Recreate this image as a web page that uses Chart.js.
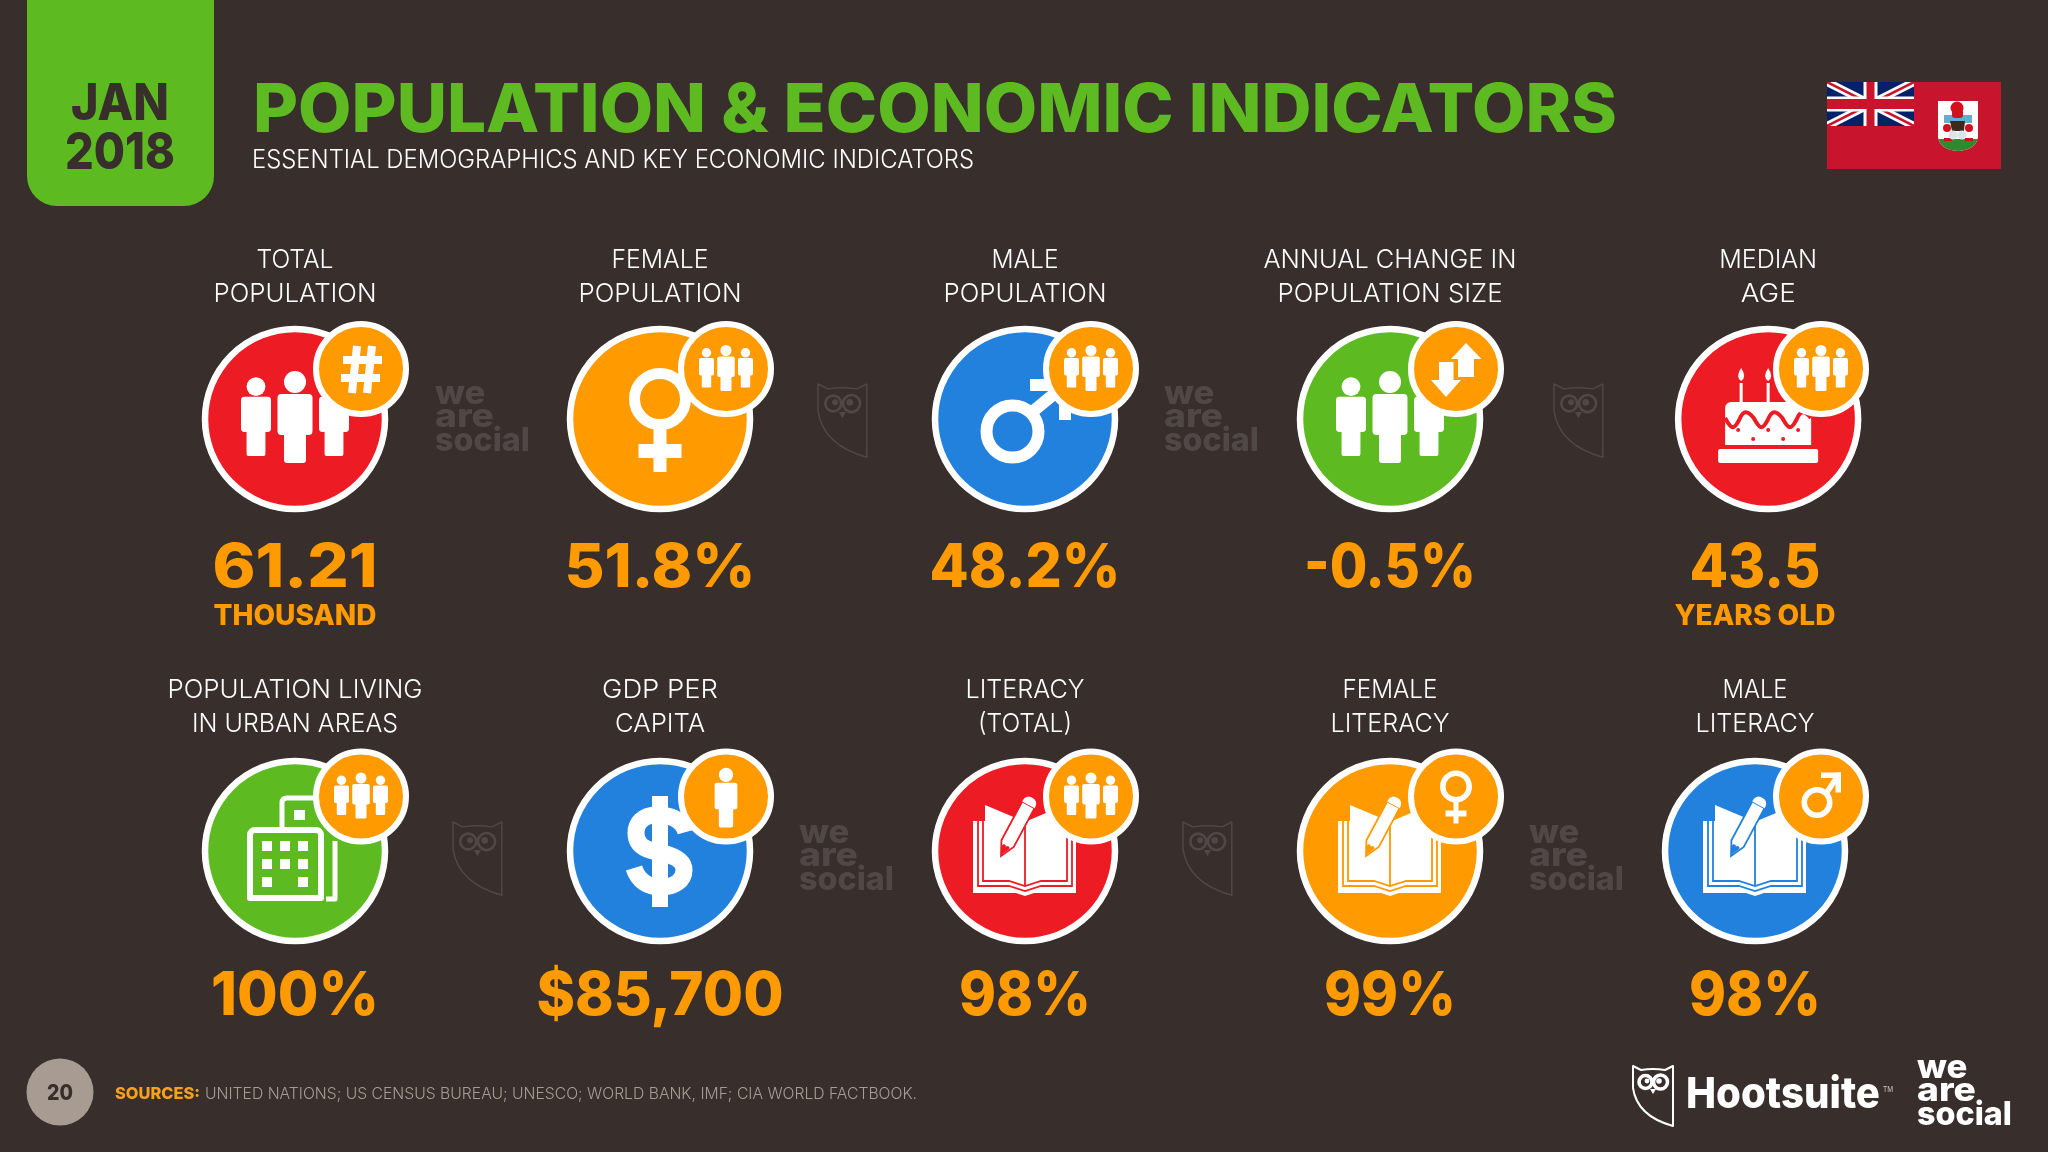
<!DOCTYPE html>
<html>
<head>
<meta charset="utf-8">
<title>Population & economic indicators</title>
<script src="https://cdn.jsdelivr.net/npm/chart.js"></script>
<style>
  html, body { margin: 0; padding: 0; background: #382e2c; overflow: hidden; }
  canvas { display: block; }
</style>
</head>
<body>
<canvas id="myChart" width="2048" height="1152"></canvas>
<script>
// data
const indicatorNames = [
  ["TOTAL", "POPULATION"], ["FEMALE", "POPULATION"], ["MALE", "POPULATION"],
  ["ANNUAL CHANGE IN", "POPULATION SIZE"], ["MEDIAN", "AGE"],
  ["POPULATION LIVING", "IN URBAN AREAS"], ["GDP PER", "CAPITA"], ["LITERACY", "(TOTAL)"],
  ["FEMALE", "LITERACY"], ["MALE", "LITERACY"]
]
const indicatorValues = ["61.21", "51.8%", "48.2%", "-0.5%", "43.5", "100%", "$85,700", "98%", "99%", "98%"]
const indicatorUnits = ["THOUSAND", "", "", "", "YEARS OLD", "", "", "", "", ""]
const indicatorColumns = [0, 1, 2, 3, 4, 0, 1, 2, 3, 4]
const indicatorRows = [0, 0, 0, 0, 0, 1, 1, 1, 1, 1]
const mainIcons = ["people", "female", "male", "people", "cake", "building", "dollar", "book", "book", "book"]
const badgeIcons = ["hash", "people", "people", "arrows", "people", "people", "person", "people", "female", "male"]

// layout and colours
const RED = "#ed1c24", ORANGE = "#ff9b00", BLUE = "#2281dc", GREEN = "#5dbb21"
const mainColors = [RED, ORANGE, BLUE, GREEN, RED, GREEN, BLUE, RED, ORANGE, BLUE]
const nameWidths = [[77, 163], [97, 163], [67, 163], [253, 225], [98, 55], [255, 206], [116, 90], [119, 94], [95, 119], [65, 119]]
const valueWidths = [165, 191, 191, 172, 131, 168, 247, 132, 132, 132]
const unitWidths = [163, 0, 0, 0, 161, 0, 0, 0, 0, 0]
const colStep = 365, rowStep = 432, firstX = 295, firstY = 419
const medianAgeNudge = 0.036
const badgeDx = 66 / colStep
const badgeDy = [50 / rowStep, 54.5 / rowStep]
const HEAVY = "Inter", LIGHT = "Inter"

function txt(c, str, x, y, font, color, width, align) {
  c.save()
  c.font = font
  c.fillStyle = color
  c.textBaseline = "alphabetic"
  c.textAlign = align || "center"
  let sx = width ? width / c.measureText(str).width : 1
  c.translate(x, y)
  c.scale(sx, 1)
  c.fillText(str, 0, 0)
  c.restore()
}

function person(c, x, feet, s) {
  c.beginPath()
  c.arc(x, feet - 81 * s, 11 * s, 0, Math.PI * 2)
  c.fill()
  c.beginPath()
  c.roundRect(x - 17.5 * s, feet - 69 * s, 35 * s, 41 * s, 4 * s)
  c.fill()
  c.beginPath()
  c.roundRect(x - 11 * s, feet - 32 * s, 22 * s, 32 * s, 3 * s)
  c.fill()
}

function people(c, x, y, s) {
  person(c, x - 39 * s, y + 37 * s, 0.857 * s)
  person(c, x + 39 * s, y + 37 * s, 0.857 * s)
  person(c, x, y + 44 * s, s)
}

function femaleSign(c, x, y, ringY, ringR, ringW, stemEnd, stemW, barY, barH, barW) {
  c.lineWidth = ringW
  c.beginPath()
  c.arc(x, y + ringY, ringR - ringW / 2, 0, Math.PI * 2)
  c.stroke()
  c.fillRect(x - stemW / 2, y + ringY + ringR - 1, stemW, stemEnd - ringY - ringR + 1)
  c.fillRect(x - barW, y + barY, barW * 2, barH)
}

function maleSign(c, x, y, rx, ry, ringR, ringW, tipX, tipY, head, w) {
  c.lineWidth = ringW
  c.beginPath()
  c.arc(x + rx, y + ry, ringR - ringW / 2, 0, Math.PI * 2)
  c.stroke()
  c.lineWidth = w
  c.lineCap = "butt"
  c.beginPath()
  c.moveTo(x + rx + ringR * 0.6, y + ry - ringR * 0.6)
  c.lineTo(x + tipX - w / 2, y + tipY + w / 2)
  c.stroke()
  c.fillRect(x + tipX - head, y + tipY, head, w)
  c.fillRect(x + tipX - w, y + tipY, w, head)
}

function hash(c, x, y) {
  c.lineWidth = 8
  c.lineCap = "butt"
  c.beginPath()
  c.moveTo(x - 9, y + 24); c.lineTo(x - 4, y - 23)
  c.moveTo(x + 6, y + 24); c.lineTo(x + 11, y - 23)
  c.moveTo(x - 20, y + 9); c.lineTo(x + 19, y + 9)
  c.moveTo(x - 18, y - 9); c.lineTo(x + 21, y - 9)
  c.stroke()
}

function arrows(c, x, y) {
  c.beginPath()
  c.moveTo(x + 10, y - 26); c.lineTo(x + 25.5, y - 10); c.lineTo(x + 18, y - 10); c.lineTo(x + 18, y + 8)
  c.lineTo(x + 2, y + 8); c.lineTo(x + 2, y - 10); c.lineTo(x - 5, y - 10)
  c.closePath()
  c.fill()
  c.beginPath()
  c.moveTo(x - 10, y + 28); c.lineTo(x - 25, y + 11); c.lineTo(x - 17, y + 11); c.lineTo(x - 17, y - 7)
  c.lineTo(x - 2.5, y - 7); c.lineTo(x - 2.5, y + 11); c.lineTo(x + 5, y + 11)
  c.closePath()
  c.fill()
}

function cake(c, x, y, col) {
  c.beginPath()
  c.roundRect(x - 50, y + 30, 100, 14, 2)
  c.fill()
  c.beginPath()
  c.roundRect(x - 43, y - 17, 86, 43, [6, 6, 0, 0])
  c.fill()
  for (let dx of [-27, 0]) {
    c.fillRect(x + dx - 1.5, y - 36, 3, 20)
    c.beginPath()
    c.moveTo(x + dx, y - 51)
    c.quadraticCurveTo(x + dx + 6, y - 42, x + dx, y - 38)
    c.quadraticCurveTo(x + dx - 6, y - 42, x + dx, y - 51)
    c.fill()
  }
  c.strokeStyle = col
  c.lineWidth = 4
  c.beginPath()
  c.moveTo(x - 43, y - 1)
  for (let i = 0; i < 3; i++) {
    let a = x - 43 + i * 28.6
    c.bezierCurveTo(a + 7, y + 12, a + 9, y + 10, a + 14, y + 1)
    c.bezierCurveTo(a + 18, y - 9, a + 22, y - 9, a + 28.6, y - 1)
  }
  c.stroke()
  c.fillStyle = col
  for (let d of [[-30, 11], [-15, 20], [0, 11], [15, 20], [30, 11]]) {
    c.beginPath()
    c.arc(x + d[0], y + d[1], 2, 0, Math.PI * 2)
    c.fill()
  }
}

function building(c, x, y) {
  c.strokeStyle = "#fff"
  c.lineWidth = 5
  c.lineJoin = "round"
  // back block
  c.beginPath()
  c.moveTo(x - 13, y - 24)
  c.lineTo(x - 13, y - 48)
  c.quadraticCurveTo(x - 13, y - 53, x - 8, y - 53)
  c.lineTo(x + 36, y - 53)
  c.moveTo(x + 40, y - 10)
  c.lineTo(x + 40, y + 48)
  c.lineTo(x + 31, y + 48)
  c.stroke()
  c.fillRect(x - 1, y - 41, 11, 10)
  // front block
  c.lineWidth = 6
  c.beginPath()
  c.roundRect(x - 45, y - 21, 71, 68, [5, 5, 0, 0])
  c.stroke()
  for (let wx of [-33, -15, 3]) {
    for (let wy of [-10, 8, 26]) {
      if (wx == -15 && wy == 26) continue
      c.fillRect(x + wx, y + wy, 10, 10)
    }
  }
}

function dollar(c, x, y) {
  c.fillRect(x - 8, y - 55, 16, 111)
  c.strokeStyle = "#fff"
  c.lineWidth = 17
  c.lineCap = "butt"
  c.beginPath()
  c.moveTo(x + 26, y - 19)
  c.bezierCurveTo(x + 22, y - 33, x + 8, y - 36, x - 3, y - 36)
  c.bezierCurveTo(x - 18, y - 36, x - 24, y - 27, x - 24, y - 18)
  c.bezierCurveTo(x - 24, y - 2, x - 8, y, x + 2, y + 2)
  c.bezierCurveTo(x + 15, y + 5, x + 24, y + 10, x + 24, y + 19)
  c.bezierCurveTo(x + 24, y + 30, x + 14, y + 36, x + 1, y + 36)
  c.bezierCurveTo(x - 12, y + 36, x - 22, y + 30, x - 26, y + 17)
  c.stroke()
}

function book(c, x, y, col) {
  c.beginPath()
  c.moveTo(x - 52, y - 30); c.lineTo(x - 40, y - 30); c.lineTo(x - 40, y - 46); c.lineTo(x - 2, y - 30)
  c.lineTo(x + 2, y - 30); c.lineTo(x + 40, y - 46); c.lineTo(x + 40, y - 30); c.lineTo(x + 51, y - 30)
  c.lineTo(x + 51, y + 42); c.lineTo(x + 9, y + 42); c.lineTo(x, y + 45); c.lineTo(x - 9, y + 42); c.lineTo(x - 52, y + 42)
  c.closePath()
  c.fill()
  c.strokeStyle = col
  c.lineWidth = 1.8
  for (let d of [[-47, 35, 41], [-42, 30, 36]]) {
    c.beginPath()
    c.moveTo(x + d[0], y - 30)
    c.lineTo(x + d[0], y + d[1])
    c.lineTo(x - 16, y + d[1])
    c.lineTo(x, y + d[2] - 1)
    c.lineTo(x + 16, y + d[1])
    c.lineTo(x - d[0], y + d[1])
    c.lineTo(x - d[0], y - 30)
    c.stroke()
  }
  c.beginPath()
  c.moveTo(x, y - 30); c.lineTo(x, y + 34)
  c.stroke()
  // pencil
  c.save()
  c.translate(x - 24, y + 5)
  c.rotate(Math.atan2(30, 56))
  c.beginPath()
  c.moveTo(0, 0); c.lineTo(7, -14); c.lineTo(7, -58); c.lineTo(-7, -58); c.lineTo(-7, -14)
  c.closePath()
  c.fillStyle = "#fff"
  c.fill()
  c.stroke()
  c.beginPath()
  c.roundRect(-7, -66, 14, 8, [6, 6, 0, 0])
  c.fill()
  c.fillStyle = col
  c.beginPath()
  c.moveTo(0, -2); c.lineTo(-4, -9); c.arc(-2, -10, 2, Math.PI, 0); c.arc(2, -10, 2, Math.PI, 0); c.closePath()
  c.fill()
  c.restore()
}

function unionJack(c, x, y, w, h) {
  c.save()
  c.beginPath()
  c.rect(x, y, w, h)
  c.clip()
  c.fillStyle = "#012169"
  c.fillRect(x, y, w, h)
  c.lineCap = "butt"
  for (let d of [["#fff", 8], ["#c8142c", 2.5]]) {
    c.strokeStyle = d[0]
    c.lineWidth = d[1]
    c.beginPath()
    c.moveTo(x, y); c.lineTo(x + w, y + h)
    c.moveTo(x + w, y); c.lineTo(x, y + h)
    c.stroke()
  }
  c.fillStyle = "#fff"
  c.fillRect(x + w / 2 - 7, y, 14, h)
  c.fillRect(x, y + h / 2 - 7.5, w, 15)
  c.fillStyle = "#c8142c"
  c.fillRect(x + w / 2 - 4, y, 8, h)
  c.fillRect(x, y + h / 2 - 5, w, 10)
  c.restore()
}

function shield(c, x, y) {
  c.save()
  c.beginPath()
  c.moveTo(x, y); c.lineTo(x + 40, y); c.lineTo(x + 40, y + 36)
  c.quadraticCurveTo(x + 38, y + 49, x + 20, y + 50)
  c.quadraticCurveTo(x + 2, y + 49, x, y + 36)
  c.closePath()
  c.fillStyle = "#fff"
  c.fill()
  c.clip()
  c.fillStyle = "#2d8a2f"
  c.fillRect(x, y + 38, 40, 12)
  c.fillStyle = "#5fb0cc"
  c.fillRect(x + 6, y + 14, 28, 8)
  c.fillStyle = "#d3111c"
  c.beginPath(); c.arc(x + 19, y + 7, 6.5, 0, Math.PI * 2); c.fill()
  c.beginPath(); c.roundRect(x + 14, y + 8, 11, 9, 3); c.fill()
  c.beginPath(); c.arc(x + 9, y + 27, 4, 0, Math.PI * 2); c.fill()
  c.beginPath(); c.arc(x + 31, y + 27, 4, 0, Math.PI * 2); c.fill()
  c.fillRect(x + 6, y + 37, 8, 3)
  c.fillRect(x + 27, y + 37, 8, 3)
  c.fillStyle = "#3a2a20"
  c.beginPath(); c.moveTo(x + 12, y + 20); c.lineTo(x + 27, y + 20); c.lineTo(x + 26, y + 30); c.lineTo(x + 14, y + 30); c.fill()
  c.fillStyle = "#dfe4ea"
  c.beginPath(); c.arc(x + 15, y + 34, 4.5, 0, Math.PI * 2); c.arc(x + 24, y + 34, 4.5, 0, Math.PI * 2); c.fill()
  c.restore()
}

function owl(c, x, y, s, color, lw) {
  c.save()
  c.translate(x, y)
  c.scale(s, s)
  c.strokeStyle = color
  c.fillStyle = color
  c.lineWidth = lw / s
  c.lineJoin = "round"
  c.beginPath()
  c.moveTo(0, 0); c.lineTo(8, 4); c.quadraticCurveTo(20, 2, 32, 4); c.lineTo(40, 0); c.lineTo(40, 60)
  c.quadraticCurveTo(4, 50, 0, 22)
  c.closePath()
  c.stroke()
  c.lineWidth = 1.8 * lw / s
  c.beginPath(); c.arc(12.5, 16, 6.5, 0, Math.PI * 2); c.stroke()
  c.beginPath(); c.arc(27.5, 16, 7, 0, Math.PI * 2); c.stroke()
  c.beginPath(); c.arc(14, 15, 2.4, 0, Math.PI * 2); c.fill()
  c.beginPath(); c.arc(26, 15, 2.8, 0, Math.PI * 2); c.fill()
  c.beginPath(); c.moveTo(17, 23); c.lineTo(23, 23); c.lineTo(20, 28); c.closePath(); c.fill()
  c.restore()
}

function weAreSocial(c, x, y, size, width, color) {
  let font = "800 " + size + "px " + HEAVY
  let step = size * 0.71
  txt(c, "we", x, y, font, color, width * 0.53, "left")
  txt(c, "are", x, y + step, font, color, width * 0.62, "left")
  txt(c, "social", x, y + step * 2, font, color, width, "left")
}

function drawIcon(c, kind, x, y, col, inBadge) {
  c.save()
  c.fillStyle = "#fff"
  c.strokeStyle = "#fff"
  if (kind == "people") people(c, x, y, inBadge ? 0.5 : 1)
  if (kind == "person") person(c, x, y + 31, 0.65)
  if (kind == "hash") hash(c, x, y)
  if (kind == "arrows") arrows(c, x, y)
  if (kind == "female" && !inBadge) femaleSign(c, x, y, -20, 31, 11, 53, 13, 25, 14, 21.5)
  if (kind == "female" && inBadge) femaleSign(c, x, y, -10, 16, 5.5, 27, 5, 14, 6, 10.5)
  if (kind == "male" && !inBadge) maleSign(c, x, y, -12.5, 12.5, 32, 12, 46, -40, 41, 12)
  if (kind == "male" && inBadge) maleSign(c, x, y, -4, 6, 15.5, 5.5, 20, -24, 20, 5.5)
  if (kind == "cake") cake(c, x, y, col)
  if (kind == "building") building(c, x, y)
  if (kind == "dollar") dollar(c, x, y)
  if (kind == "book") book(c, x, y, col)
  c.restore()
}

const slidePlugin = {
  id: "slide",
  beforeDatasetsDraw(chart) {
    let c = chart.ctx
    // date tab
    c.fillStyle = GREEN
    c.beginPath()
    c.roundRect(27, -40, 187, 246, 30)
    c.fill()
    txt(c, "JAN", 120, 120, "800 51px " + HEAVY, "#382e2c", 98)
    txt(c, "2018", 120, 169, "800 51px " + HEAVY, "#382e2c", 110)
    txt(c, "POPULATION & ECONOMIC INDICATORS", 253, 132, "800 68px " + HEAVY, GREEN, 1364, "left")
    txt(c, "ESSENTIAL DEMOGRAPHICS AND KEY ECONOMIC INDICATORS", 252, 168, "300 25px " + LIGHT, "#fff", 722, "left")
    // flag
    c.fillStyle = "#c8142c"
    c.fillRect(1827, 82, 174, 87)
    unionJack(c, 1827, 82, 87, 44)
    shield(c, 1938, 101)
    // faint logos between the circles
    let faint = "#4f4846"
    weAreSocial(c, 435, 404, 33, 95, faint)
    weAreSocial(c, 1164, 404, 33, 95, faint)
    weAreSocial(c, 799, 843, 33, 95, faint)
    weAreSocial(c, 1529, 843, 33, 95, faint)
    owl(c, 818, 384, 1.22, faint, 1.5)
    owl(c, 1554, 384, 1.22, faint, 1.5)
    owl(c, 453, 822, 1.22, faint, 1.5)
    owl(c, 1183, 822, 1.22, faint, 1.5)
    // footer
    c.fillStyle = "#a89c92"
    c.beginPath()
    c.arc(60, 1092, 33.5, 0, Math.PI * 2)
    c.fill()
    txt(c, "20", 60, 1100, "800 22px " + HEAVY, "#382e2c", 26)
    txt(c, "SOURCES:", 115, 1099, "800 16px " + HEAVY, "#f9a11b", 85, "left")
    txt(c, "UNITED NATIONS; US CENSUS BUREAU; UNESCO; WORLD BANK, IMF; CIA WORLD FACTBOOK.", 205, 1099, "300 16px " + LIGHT, "#a89c92", 712, "left")
    owl(c, 1633, 1066, 1, "#fff", 2)
    txt(c, "Hootsuite", 1686, 1108, "800 43px " + HEAVY, "#fff", 194, "left")
    txt(c, "TM", 1883, 1092, "400 8px " + LIGHT, "#cfc8c4", 10, "left")
    weAreSocial(c, 1917, 1078, 33, 95, "#fff")
  },
  afterDatasetDraw(chart, args) {
    let c = chart.ctx
    let meta = chart.getDatasetMeta(args.index)
    meta.data.forEach((el, i) => {
      if (args.index == 1) drawIcon(c, mainIcons[i], el.x, el.y, mainColors[i], false)
      else drawIcon(c, badgeIcons[i], el.x, el.y, ORANGE, true)
    })
    if (args.index != 0) return
    // names, values and units hang off the circles
    let main = chart.getDatasetMeta(1).data
    main.forEach((el, i) => {
      let top = indicatorRows[i] == 0
      let nameY = top ? 268 : 698
      let labelX = chart.scales.x.getPixelForValue(indicatorColumns[i])
      txt(c, indicatorNames[i][0], el.x, nameY, "300 26px " + LIGHT, "#fff", nameWidths[i][0])
      txt(c, indicatorNames[i][1], el.x, nameY + 34, "300 26px " + LIGHT, "#fff", nameWidths[i][1])
      txt(c, indicatorValues[i], labelX, top ? 587 : 1015, "800 61px " + HEAVY, ORANGE, valueWidths[i])
      if (indicatorUnits[i]) txt(c, indicatorUnits[i], labelX, 625, "800 29px " + HEAVY, ORANGE, unitWidths[i])
    })
  }
}

function generarGrafico() {
  let mainPoints = indicatorColumns.map((col, i) => ({ x: i == 4 ? col + medianAgeNudge : col, y: indicatorRows[i] }))
  // the median age circle sits a little to the right but its badge stays on the column
  let badgePoints = indicatorColumns.map((col, i) => ({ x: col + badgeDx, y: indicatorRows[i] - badgeDy[indicatorRows[i]] }))
  new Chart(document.getElementById("myChart"), {
    type: "scatter",
    data: {
      labels: indicatorNames.map((n) => n.join(" ")),
      datasets: [
        {
          label: "Badges",
          data: badgePoints,
          backgroundColor: ORANGE,
          borderColor: "#fff",
          borderWidth: 6,
          pointRadius: 45,
          pointHoverRadius: 45,
          clip: false
        },
        {
          label: "Indicators",
          data: mainPoints,
          backgroundColor: mainColors,
          borderColor: "#fff",
          borderWidth: 6.5,
          pointRadius: 90,
          pointHoverRadius: 90,
          clip: false
        }
      ]
    },
    options: {
      responsive: false,
      animation: false,
      events: [],
      layout: { padding: 0, autoPadding: false },
      plugins: { legend: { display: false }, tooltip: { enabled: false } },
      scales: {
        x: { type: "linear", display: false, bounds: "data", min: -firstX / colStep, max: (2048 - firstX) / colStep },
        y: { type: "linear", display: false, bounds: "data", reverse: true, min: -firstY / rowStep, max: (1152 - firstY) / rowStep }
      }
    },
    plugins: [slidePlugin]
  })
}
generarGrafico()
</script>
</body>
</html>
